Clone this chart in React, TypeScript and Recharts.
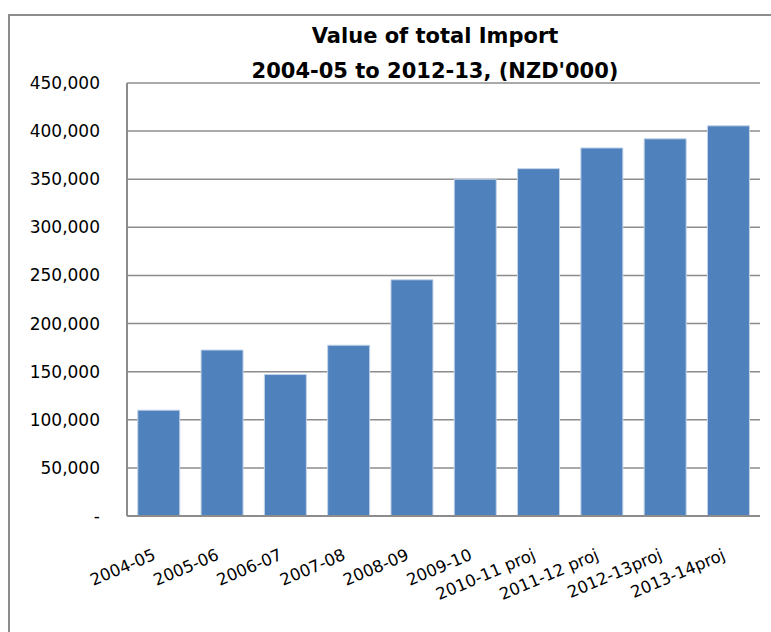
import { BarChart, Bar, XAxis, YAxis, CartesianGrid } from 'recharts';

const years = [
  '2004-05', '2005-06', '2006-07', '2007-08', '2008-09',
  '2009-10', '2010-11 proj', '2011-12 proj', '2012-13proj', '2013-14proj',
];
const importValues = [110000, 172500, 147000, 177500, 245500, 350000, 361000, 382500, 392000, 405500];
const yTicks = [0, 50000, 100000, 150000, 200000, 250000, 300000, 350000, 400000, 450000];
const titleLines = ['Value of total Import', "2004-05 to 2012-13, (NZD'000)"];

const data = years.map((year, i) => ({ year, value: importValues[i] }));

const FONT = '"DejaVu Sans", sans-serif';

const fmt = (v: number) => (v === 0 ? '-' : v.toLocaleString('en-US'));

// rotated category label, anchored at its end just under the bar
const XTick = (props: any) => {
  const { x, y, payload } = props;
  const ax = x - 2;
  const ay = y + 35;
  return (
    <text
      x={ax}
      y={ay}
      textAnchor="end"
      fontFamily={FONT}
      fontSize={16.5}
      fill="#000"
      transform={`rotate(-23, ${ax}, ${ay})`}
    >
      {payload.value}
    </text>
  );
};

const App = () => {
  return (
    <div style={{ position: 'absolute', left: 0, top: 0, width: 771, height: 632, overflow: 'hidden', background: '#fff' }}>
      <div style={{ position: 'absolute', left: 8, top: 14, width: 900, height: 800, borderLeft: '2px solid #8c8c8c', borderTop: '2px solid #8c8c8c' }} />
      <div style={{ position: 'absolute', left: 235, width: 400, top: 19, textAlign: 'center', fontFamily: FONT, fontWeight: 'bold', fontSize: 21, lineHeight: '35px', color: '#000' }}>
        {titleLines.map((t) => <div key={t}>{t}</div>)}
      </div>
      <BarChart
        width={771}
        height={632}
        data={data}
        margin={{ top: 83, right: 11, bottom: 0, left: 0 }}
        barCategoryGap="17%"
        style={{ position: 'absolute', left: 0, top: 0 }}
      >
        <CartesianGrid vertical={false} stroke="#8c8c8c" strokeWidth={1.5} />
        <XAxis
          dataKey="year"
          height={116}
          interval={0}
          tickLine={false}
          axisLine={{ stroke: '#8c8c8c', strokeWidth: 2 }}
          tick={<XTick />}
        />
        <YAxis
          width={127}
          domain={[0, 450000]}
          ticks={yTicks}
          tickFormatter={fmt}
          tickLine={false}
          tickSize={0}
          tickMargin={27}
          axisLine={{ stroke: '#8c8c8c', strokeWidth: 2 }}
          tick={{ fontFamily: FONT, fontSize: 17, fill: '#000' }}
        />
        <Bar dataKey="value" fill="#4f81bd" stroke="#c3d4ea" strokeWidth={1} isAnimationActive={false} />
      </BarChart>
    </div>
  );
};

export default App;
